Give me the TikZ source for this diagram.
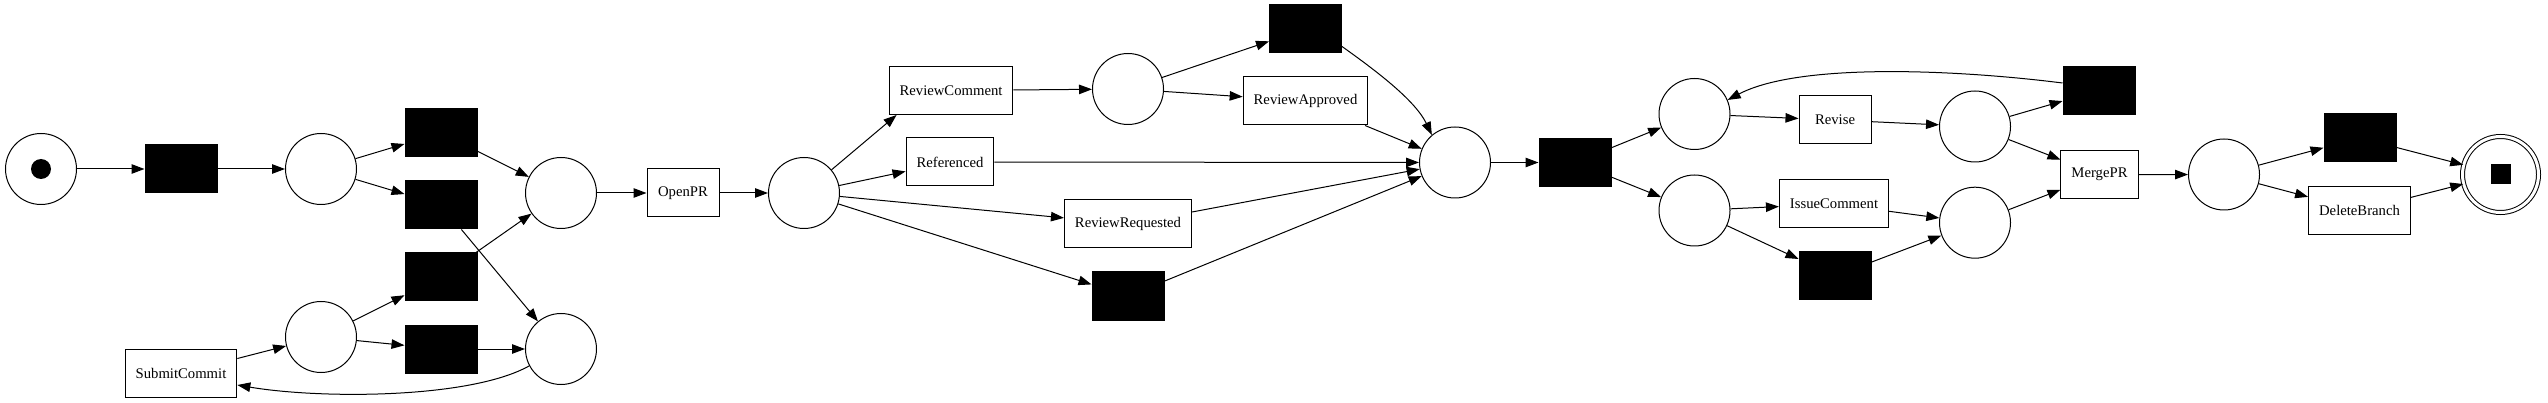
\documentclass[tikz,border=0pt]{standalone}
\usepackage{fontspec}
\setmainfont{Liberation Serif}
\usetikzlibrary{arrows.meta,calc}
\begin{document}
\begin{tikzpicture}[x=1pt,y=-1pt,
  pnode/.style={circle,draw,line width=1pt,minimum size=71pt,inner sep=0pt},
  bnode/.style={rectangle,draw,fill=black,line width=1pt,minimum width=72pt,minimum height=48pt,inner sep=0pt},
  tnode/.style={rectangle,draw,fill=white,line width=1pt,minimum width=72pt,minimum height=48pt,inner xsep=10.5pt,inner ysep=0pt,font=\fontsize{14.7}{17}\selectfont},
  earr/.style={line width=1pt,-{Triangle[length=13pt,width=9.5pt]}},
]
\useasboundingbox (0,0) rectangle (2548,403);
% places
\node[pnode,path picture={\fill (path picture bounding box.center) circle (10pt);}] (start) at (41,169) {};
\node[pnode] (p1) at (321,169) {};
\node[pnode] (p2) at (561,193) {};
\node[pnode] (p3) at (561,349) {};
\node[pnode] (p4) at (321,337) {};
\node[pnode] (p5) at (804,193) {};
\node[pnode] (p6) at (1128,89) {};
\node[pnode] (p7) at (1455,162.5) {};
\node[pnode] (p8) at (1694.5,114) {};
\node[pnode] (p9) at (1694.5,210.5) {};
\node[pnode] (p10) at (1975,126.5) {};
\node[pnode] (p11) at (1975,222.7) {};
\node[pnode] (p12) at (2224,174.5) {};
\node[circle,draw,line width=1pt,double,double distance=3pt,minimum size=76pt,inner sep=0pt,
  path picture={\fill ([xshift=-10pt,yshift=-10pt]path picture bounding box.center) rectangle ++(20pt,20pt);}] (end) at (2500.5,174.5) {};
% silent transitions
\node[bnode] (t1) at (181,169) {};
\node[bnode] (t2a) at (441,133) {};
\node[bnode] (t2b) at (441,205) {};
\node[bnode] (t2c) at (441,277) {};
\node[bnode] (t2d) at (441,349) {};
\node[bnode] (t3) at (1128,296) {};
\node[bnode] (t4) at (1305.5,29) {};
\node[bnode] (t5) at (1575,162.5) {};
\node[bnode] (t6) at (1835,276) {};
\node[bnode] (t7) at (2099,90.5) {};
\node[bnode] (t8) at (2360,138) {};
% labelled transitions
\node[tnode] (sc) at (181,373) {SubmitCommit};
\node[tnode] (openpr) at (683,193) {OpenPR};
\node[tnode] (rc) at (951,90.5) {ReviewComment};
\node[tnode] (ref) at (950,162) {Referenced};
\node[tnode] (rr) at (1128,224) {ReviewRequested};
\node[tnode] (ra) at (1305.5,101) {ReviewApproved};
\node[tnode] (rev) at (1835,120) {Revise};
\node[tnode] (ic) at (1834,204) {IssueComment};
\node[tnode] (merge) at (2099.5,174.7) {MergePR};
\node[tnode] (db) at (2359.5,210.5) {DeleteBranch};
% arcs
\draw[earr] (start) -- (t1);
\draw[earr] (t1) -- (p1);
\draw[earr] (p1) -- (t2a);
\draw[earr] (p1) -- (t2b);
\draw[earr] (t2a) -- (p2);
\draw[earr] (t2b) -- (p3);
\draw[earr] (t2c) -- (p2);
\draw[earr] (t2d) -- (p3);
\draw[earr] (p4) -- (t2c);
\draw[earr] (p4) -- (t2d);
\draw[earr] (sc) -- (p4);
\draw[earr] (p3.208) .. controls (470,399) and (320,399) .. ($(sc.east)+(0,12)$);
\draw[earr] (p2) -- (openpr);
\draw[earr] (openpr) -- (p5);
\draw[earr] (p5) -- ([xshift=8pt]rc.south west);
\draw[earr] (p5) -- (ref);
\draw[earr] (p5) -- (rr);
\draw[earr] (p5) -- (t3);
\draw[earr] (rc) -- (p6);
\draw[earr] (p6) -- (t4);
\draw[earr] (p6) -- (ra);
\draw[earr] ($(t4.east)+(0,17.5)$) .. controls (1375,70) and (1415,100) .. (p7.130);
\draw[earr] (ra) -- (p7);
\draw[earr] (ref) -- (p7);
\draw[earr] (rr) -- (p7);
\draw[earr] (t3) -- (p7);
\draw[earr] (p7) -- (t5);
\draw[earr] (t5) -- (p8);
\draw[earr] (t5) -- (p9);
\draw[earr] (p8) -- (rev);
\draw[earr] (rev) -- (p10);
\draw[earr] (p9) -- (ic);
\draw[earr] (ic) -- (p11);
\draw[earr] (p9) -- (t6);
\draw[earr] (t6) -- (p11);
\draw[earr] (p10) -- (t7);
\draw[earr] ($(t7.west)+(0,-7.5)$) .. controls (1960,70) and (1800,62) .. (p8.23);
\draw[earr] (p10) -- (merge);
\draw[earr] (p11) -- (merge);
\draw[earr] (merge) -- (p12);
\draw[earr] (p12) -- (t8);
\draw[earr] (p12) -- (db);
\draw[earr] (t8) -- (end);
\draw[earr] (db) -- (end);
\end{tikzpicture}
\end{document}
